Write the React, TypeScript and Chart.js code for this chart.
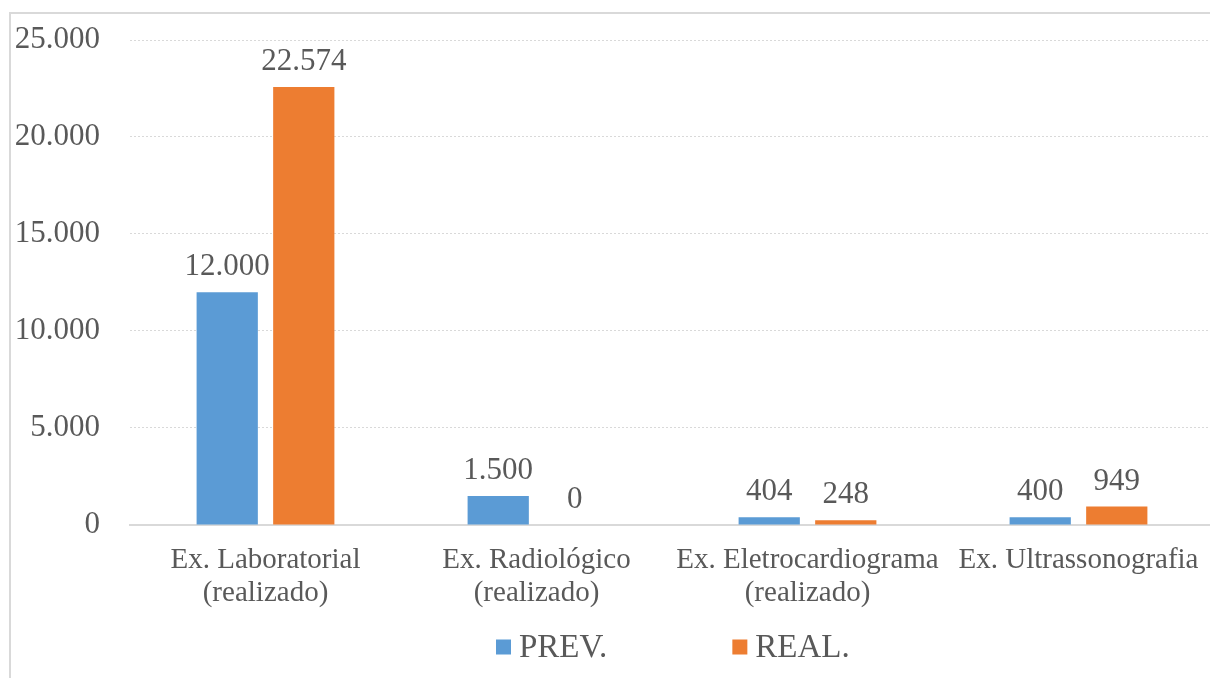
import React, { useEffect, useRef } from "react";
import { Chart, registerables } from "chart.js";

Chart.register(...registerables);

const categories: (string | string[])[] = [
  ["Ex. Laboratorial", "(realizado)"],
  ["Ex. Radiológico", "(realizado)"],
  ["Ex. Eletrocardiograma", "(realizado)"],
  "Ex. Ultrassonografia",
];
const prevValues = [12000, 1500, 404, 400];
const realValues = [22574, 0, 248, 949];
const seriesNames = ["PREV.", "REAL."];
const seriesColors = ["#5B9BD5", "#ED7D31"];
const yMax = 25000;
const yStep = 5000;

const FONT = "'Liberation Serif', 'Times New Roman', serif";
const NUM_SIZE = 31;
const CAT_SIZE = 29;
const LEGEND_SIZE = 33;
const TEXT_COLOR = "#595959";
const LINE_COLOR = "#d9d9d9";

const fmt = (n: number) => String(Math.round(n)).replace(/\B(?=(\d{3})+(?!\d))/g, ".");

const framePlugin = {
  id: "frame",
  beforeDraw(chart: any) {
    const ctx = chart.ctx;
    ctx.save();
    ctx.fillStyle = "#ffffff";
    ctx.fillRect(0, 0, chart.width, chart.height);
    ctx.strokeStyle = LINE_COLOR;
    ctx.lineWidth = 2;
    ctx.beginPath();
    ctx.moveTo(10, chart.height + 5);
    ctx.lineTo(10, 13);
    ctx.lineTo(chart.width + 5, 13);
    ctx.stroke();
    ctx.restore();
  },
};

const dataLabelPlugin = {
  id: "dataLabels",
  afterDatasetsDraw(chart: any) {
    const ctx = chart.ctx;
    ctx.save();
    ctx.font = `${NUM_SIZE}px ${FONT}`;
    ctx.fillStyle = TEXT_COLOR;
    ctx.textAlign = "center";
    ctx.textBaseline = "alphabetic";
    chart.data.datasets.forEach((ds: any, i: number) => {
      const meta = chart.getDatasetMeta(i);
      meta.data.forEach((el: any, j: number) => {
        ctx.fillText(fmt(ds.data[j]), el.x, el.y - 17);
      });
    });
    ctx.restore();
  },
};

const legendPlugin = {
  id: "customLegend",
  afterDraw(chart: any) {
    const ctx = chart.ctx;
    const area = chart.chartArea;
    ctx.save();
    ctx.font = `${LEGEND_SIZE}px ${FONT}`;
    ctx.textBaseline = "middle";
    ctx.textAlign = "left";
    const box = 15;
    const gapBoxText = 8;
    const gapItems = 125;
    const items = chart.data.datasets.map((ds: any) => ({
      label: ds.label,
      color: ds.backgroundColor,
      w: box + gapBoxText + ctx.measureText(ds.label).width,
    }));
    const total = items.reduce((s: number, it: any) => s + it.w, 0) + gapItems * (items.length - 1);
    let x = Math.round((area.left + area.right) / 2 - total / 2) + 1;
    const y = 647;
    items.forEach((it: any) => {
      ctx.fillStyle = it.color;
      ctx.fillRect(x, y - box / 2, box, box);
      ctx.fillStyle = TEXT_COLOR;
      ctx.fillText(it.label, x + box + gapBoxText, y + 1);
      x += it.w + gapItems;
    });
    ctx.restore();
  },
};

export default function App() {
  const ref = useRef<HTMLCanvasElement | null>(null);

  useEffect(() => {
    if (!ref.current) return;
    const chart = new Chart(ref.current, {
      type: "bar",
      data: {
        labels: categories,
        datasets: [
          {
            label: seriesNames[0],
            data: prevValues,
            backgroundColor: seriesColors[0],
            categoryPercentage: 0.565,
            barPercentage: 0.8,
          },
          {
            label: seriesNames[1],
            data: realValues,
            backgroundColor: seriesColors[1],
            categoryPercentage: 0.565,
            barPercentage: 0.8,
          },
        ],
      },
      options: {
        responsive: false,
        animation: false,
        events: [],
        layout: { padding: { top: 40, bottom: 57, left: 0, right: 0 } },
        plugins: {
          legend: { display: false },
          tooltip: { enabled: false },
          title: { display: false },
        },
        scales: {
          x: {
            grid: { display: false },
            border: { display: true, color: LINE_COLOR, width: 2 },
            ticks: {
              color: TEXT_COLOR,
              font: { family: FONT, size: CAT_SIZE, lineHeight: 1.138 },
              padding: 11,
              maxRotation: 0,
              minRotation: 0,
              autoSkip: false,
            },
          },
          y: {
            min: 0,
            max: yMax,
            afterFit(scale: any) {
              scale.width = 130;
              scale.paddingTop = 0;
              scale.paddingBottom = 0;
            },
            grid: {
              drawTicks: false,
              color: (c: any) => (c.tick && c.tick.value === 0 ? "rgba(0,0,0,0)" : LINE_COLOR),
              lineWidth: 1,
            },
            border: { display: false, dash: [2, 2] },
            ticks: {
              stepSize: yStep,
              color: TEXT_COLOR,
              font: { family: FONT, size: NUM_SIZE },
              padding: 30,
              callback: (v: any) => fmt(Number(v)),
            },
          },
        },
      },
      plugins: [framePlugin, dataLabelPlugin, legendPlugin],
    } as any);
    return () => chart.destroy();
  }, []);

  return (
    <div
      style={{
        position: "absolute",
        left: 0,
        top: 0,
        width: 1210,
        height: 678,
        overflow: "hidden",
        background: "#ffffff",
      }}
    >
      <canvas
        ref={ref}
        width={1214}
        height={678}
        style={{ position: "absolute", left: 0, top: 0, width: 1214, height: 678 }}
      />
    </div>
  );
}
